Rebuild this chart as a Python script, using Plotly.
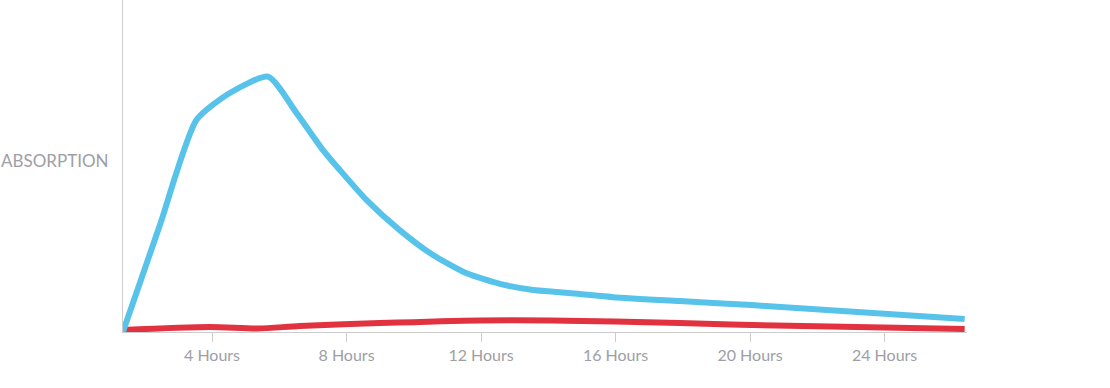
import plotly.graph_objects as go

# Data (hours, relative absorption 0-100)
blue_hours = [1.35, 2.44, 3.54, 4.53, 5.67, 6.51, 7.30, 7.80, 8.59, 9.58, 10.57, 11.57, 12.56, 13.55, 14.34, 15.92, 17.91, 20.05, 26.38]
blue_vals  = [0.0, 31.9, 63.9, 72.0, 76.9, 66.0, 54.8, 48.8, 39.8, 30.7, 23.2, 17.7, 14.5, 12.65, 12.0, 10.5, 9.3, 8.1, 3.9]

red_hours = [1.35, 3.93, 5.36, 6.61, 8.99, 11.96, 14.04, 17.91, 20.05, 26.38]
red_vals  = [0.6, 1.5, 1.05, 1.8, 2.7, 3.5, 3.5, 2.7, 2.1, 0.9]

tick_vals = [4, 8, 12, 16, 20, 24]
tick_text = ["4 Hours", "8 Hours", "12 Hours", "16 Hours", "20 Hours", "24 Hours"]

fig = go.Figure()
fig.add_trace(go.Scatter(x=red_hours, y=red_vals, mode="lines",
                         line=dict(color="#E0333F", width=6, shape="spline", smoothing=0.8),
                         hoverinfo="skip"))
fig.add_trace(go.Scatter(x=blue_hours, y=blue_vals, mode="lines",
                         line=dict(color="#58C3EA", width=6, shape="spline", smoothing=0.6),
                         hoverinfo="skip"))

fig.update_layout(
    width=1110, height=388,
    margin=dict(l=123, r=143, t=0, b=56),
    paper_bgcolor="white", plot_bgcolor="white",
    showlegend=False,
    font=dict(family="Lato, 'Open Sans', sans-serif", color="#9E9EA6", size=16),
    xaxis=dict(range=[1.353, 26.45], tickvals=tick_vals, ticktext=tick_text,
               showgrid=False, zeroline=False, showline=True, linecolor="#CCCCCC", linewidth=1.3,
               ticks="outside", ticklen=9, tickcolor="#CCCCCC", tickwidth=1.3,
               tickfont=dict(size=16, color="#9E9EA6"), layer="below traces"),
    yaxis=dict(range=[0, 100], showticklabels=False, showgrid=False, zeroline=False,
               showline=True, linecolor="#CCCCCC", linewidth=1.3, ticks="", layer="below traces"),
    annotations=[dict(text="ABSORPTION", xref="paper", yref="paper", x=0, y=0.518,
                      xanchor="right", yanchor="middle", xshift=-12, showarrow=False,
                      font=dict(size=17, color="#9E9EA6", family="Lato, 'Open Sans', sans-serif"))],
)

fig.write_html("out.html", config={"displayModeBar": False},
               post_script="document.body.style.margin='0px';")
